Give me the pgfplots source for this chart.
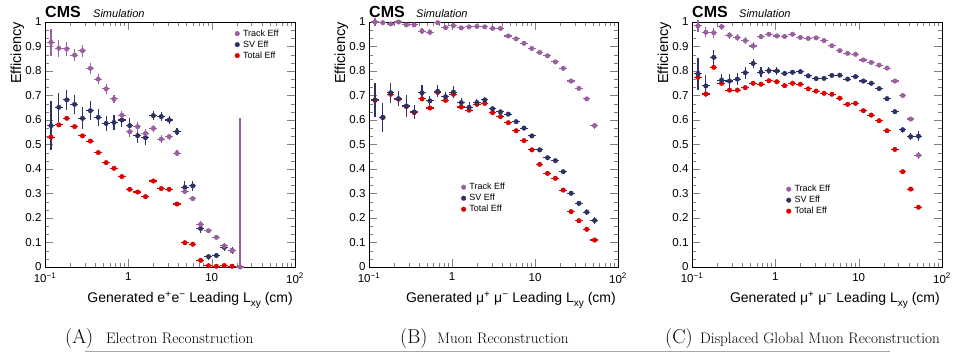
\documentclass[border=0pt]{standalone}
\usepackage{fontspec}
\usepackage{pgfplots}
\pgfplotsset{compat=1.18}
\newfontfamily\plotfont{Liberation Sans}
\definecolor{trk}{RGB}{155,95,160}
\definecolor{sv}{RGB}{45,50,100}
\definecolor{tot}{RGB}{220,0,0}
\pgfplotsset{
    scale only axis, width=250pt, height=245pt,
    xmin=0.1, xmax=100, ymin=0, ymax=1,
    xtick={0.1,1,10,100},
    xticklabels={10\textsuperscript{−1},1,10,10\textsuperscript{2}},
    ytick={0,0.1,0.2,0.3,0.4,0.5,0.6,0.7,0.8,0.9,1},
    yticklabels={0,0.1,0.2,0.3,0.4,0.5,0.6,0.7,0.8,0.9,1},
    minor y tick num=2,
    tick align=inside, tick pos=both,
    major tick length=8pt, minor tick length=4pt,
    axis line style={line width=0.8pt},
    ticklabel style={font=\plotfont\fontsize{11.5}{12}\selectfont},
    xticklabel style={yshift=-2.5pt},
    legend cell align=left,
    reverse legend,
    legend style={draw=none, fill=none, font=\plotfont\fontsize{9}{10}\selectfont,
      row sep=0pt, column sep=2pt, inner sep=0pt, nodes={inner sep=1.5pt}},
    clip=false,
}
\begin{document}
\begin{tikzpicture}
\useasboundingbox (0pt,0pt) rectangle (963pt,356pt);
% ---------------- Panel A ----------------
\begin{semilogxaxis}[at={(45pt,89pt)}, anchor=south west,
  legend style={at={(axis description cs:0.759,0.976)}, anchor=north west}]
\addplot[only marks, mark=*, mark size=2.3pt, color=tot,
  error bars/.cd, x dir=both, x fixed relative=0.108, y dir=both, y fixed=0.005,
  error mark=none, error bar style={line width=1.1pt}] table[x=x,y=y]{
x y
0.118 0.53
0.1466 0.58
0.1824 0.607
0.2267 0.573
0.2818 0.535
0.3503 0.514
0.4355 0.467
0.5414 0.426
0.673 0.403
0.8367 0.369
1.040 0.317
1.293 0.306
1.607 0.287
1.998 0.351
2.483 0.32
3.087 0.317
3.837 0.257
4.770 0.099
5.929 0.093
7.371 0.027
9.162 0.005
11.39 0.003
14.16 0.006
17.60 0.003
};
\addplot[only marks, mark=*, mark size=2.3pt, color=sv,
  error bars/.cd, x dir=both, x fixed relative=0.108, y dir=both, y explicit,
  error mark=none, error bar style={line width=1.1pt}] table[x=x,y=y,y error=e]{
x y e
0.118 0.577 0.1
0.1466 0.652 0.06
0.1824 0.682 0.04
0.2267 0.664 0.04
0.2818 0.607 0.045
0.3503 0.638 0.04
0.4355 0.611 0.035
0.5414 0.586 0.03
0.673 0.59 0.03
0.8367 0.60 0.03
1.040 0.577 0.03
1.293 0.536 0.03
1.607 0.528 0.03
1.998 0.618 0.02
2.483 0.614 0.02
3.087 0.600 0.018
3.837 0.552 0.015
4.770 0.325 0.025
5.929 0.331 0.022
7.371 0.157 0.02
9.162 0.042 0.012
11.39 0.047 0.012
14.16 0.080 0.015
17.60 0.067 0.015
};
\addplot[only marks, mark=*, mark size=2.3pt, color=trk,
  error bars/.cd, x dir=both, x fixed relative=0.108, y dir=both, y explicit,
  error mark=none, error bar style={line width=1.1pt}] table[x=x,y=y,y error plus=ep,y error minus=em]{
x y ep em
0.118 0.917 0.055 0.055
0.1466 0.893 0.035 0.035
0.1824 0.890 0.03 0.03
0.2267 0.865 0.025 0.025
0.2818 0.883 0.025 0.025
0.3503 0.811 0.022 0.022
0.4355 0.767 0.02 0.02
0.5414 0.727 0.02 0.02
0.673 0.686 0.018 0.018
0.8367 0.620 0.018 0.018
1.040 0.552 0.02 0.02
1.293 0.573 0.02 0.02
1.607 0.545 0.02 0.02
1.998 0.566 0.015 0.015
2.483 0.522 0.015 0.015
3.087 0.532 0.012 0.012
3.837 0.464 0.012 0.012
4.770 0.308 0.012 0.012
5.929 0.279 0.01 0.01
7.371 0.174 0.012 0.012
9.162 0.148 0.006 0.006
11.39 0.121 0.006 0.006
14.16 0.086 0.01 0.01
17.60 0.068 0.01 0.01
21.88 0.0 0.607 0.0
};
\legend{Total Eff, SV Eff, Track Eff}
\end{semilogxaxis}
% ---------------- Panel B ----------------
\begin{semilogxaxis}[width=249pt, at={(369pt,89pt)}, anchor=south west,
  legend style={at={(axis description cs:0.370,0.349)}, anchor=north west}]
\addplot[only marks, mark=*, mark size=2.3pt, color=tot,
  error bars/.cd, x dir=both, x fixed relative=0.108, y dir=both, y fixed=0.006,
  error mark=none, error bar style={line width=1.1pt}] table[x=x,y=y]{
x y
0.118 0.680
0.1466 0.610
0.1824 0.705
0.2267 0.685
0.2818 0.655
0.3503 0.630
0.4355 0.686
0.5414 0.649
0.673 0.713
0.8367 0.680
1.040 0.705
1.293 0.653
1.607 0.640
1.998 0.664
2.483 0.668
3.087 0.630
3.837 0.614
4.770 0.589
5.929 0.556
7.371 0.516
9.162 0.478
11.39 0.419
14.16 0.382
17.60 0.362
21.88 0.314
27.20 0.226
33.81 0.189
42.03 0.154
52.24 0.110
};
\addplot[only marks, mark=*, mark size=2.3pt, color=sv,
  error bars/.cd, x dir=both, x fixed relative=0.108, y dir=both, y explicit,
  error mark=none, error bar style={line width=1.1pt}] table[x=x,y=y,y error=e]{
x y e
0.118 0.682 0.07
0.1466 0.611 0.06
0.1824 0.711 0.04
0.2267 0.687 0.03
0.2818 0.657 0.045
0.3503 0.633 0.03
0.4355 0.711 0.03
0.5414 0.678 0.02
0.673 0.717 0.025
0.8367 0.695 0.02
1.040 0.714 0.025
1.293 0.671 0.02
1.607 0.652 0.02
1.998 0.671 0.015
2.483 0.682 0.012
3.087 0.646 0.01
3.837 0.633 0.01
4.770 0.624 0.008
5.929 0.593 0.008
7.371 0.567 0.008
9.162 0.535 0.008
11.39 0.478 0.008
14.16 0.446 0.008
17.60 0.434 0.008
21.88 0.389 0.008
27.20 0.301 0.008
33.81 0.260 0.01
42.03 0.224 0.012
52.24 0.190 0.015
};
\addplot[only marks, mark=*, mark size=2.3pt, color=trk,
  error bars/.cd, x dir=both, x fixed relative=0.108, y dir=both, y explicit,
  error mark=none, error bar style={line width=1.1pt}] table[x=x,y=y,y error=e]{
x y e
0.118 1.000 0.015
0.1466 0.997 0.01
0.1824 0.992 0.01
0.2267 1.000 0.008
0.2818 0.988 0.008
0.3503 0.988 0.008
0.4355 0.963 0.012
0.5414 0.958 0.012
0.673 0.997 0.006
0.8367 0.977 0.008
1.040 0.985 0.006
1.293 0.976 0.005
1.607 0.980 0.005
1.998 0.982 0.005
2.483 0.980 0.005
3.087 0.974 0.005
3.837 0.974 0.005
4.770 0.943 0.005
5.929 0.931 0.005
7.371 0.913 0.005
9.162 0.892 0.005
11.39 0.876 0.005
14.16 0.862 0.005
17.60 0.837 0.005
21.88 0.811 0.006
27.20 0.759 0.006
33.81 0.729 0.007
42.03 0.686 0.008
52.24 0.577 0.012
};
\legend{Total Eff, SV Eff, Track Eff}
\end{semilogxaxis}
% ---------------- Panel C ----------------
\begin{semilogxaxis}[at={(692pt,89pt)}, anchor=south west,
  legend style={at={(axis description cs:0.377,0.341)}, anchor=north west}]
\addplot[only marks, mark=*, mark size=2.3pt, color=tot,
  error bars/.cd, x dir=both, x fixed relative=0.108, y dir=both, y fixed=0.005,
  error mark=none, error bar style={line width=1.1pt}] table[x=x,y=y]{
x y
0.118 0.774
0.1466 0.706
0.1824 0.815
0.2267 0.750
0.2818 0.722
0.3503 0.722
0.4355 0.732
0.5414 0.750
0.673 0.746
0.8367 0.760
1.040 0.756
1.293 0.740
1.607 0.750
1.998 0.746
2.483 0.727
3.087 0.718
3.837 0.709
4.770 0.705
5.929 0.689
7.371 0.664
9.162 0.668
11.39 0.638
14.16 0.620
17.60 0.597
21.88 0.556
27.20 0.480
33.81 0.389
42.03 0.318
52.24 0.244
};
\addplot[only marks, mark=*, mark size=2.3pt, color=sv,
  error bars/.cd, x dir=both, x fixed relative=0.108, y dir=both, y explicit,
  error mark=none, error bar style={line width=1.1pt}] table[x=x,y=y,y error=e]{
x y e
0.118 0.788 0.065
0.1466 0.739 0.045
0.1824 0.856 0.03
0.2267 0.763 0.025
0.2818 0.759 0.03
0.3503 0.767 0.025
0.4355 0.793 0.025
0.5414 0.831 0.02
0.673 0.795 0.02
0.8367 0.801 0.015
1.040 0.800 0.015
1.293 0.790 0.012
1.607 0.795 0.01
1.998 0.797 0.01
2.483 0.780 0.008
3.087 0.769 0.008
3.837 0.770 0.007
4.770 0.782 0.007
5.929 0.783 0.007
7.371 0.767 0.007
9.162 0.777 0.007
11.39 0.759 0.007
14.16 0.750 0.007
17.60 0.728 0.008
21.88 0.687 0.008
27.20 0.634 0.01
33.81 0.560 0.012
42.03 0.532 0.015
52.24 0.534 0.02
};
\addplot[only marks, mark=*, mark size=2.3pt, color=trk,
  error bars/.cd, x dir=both, x fixed relative=0.108, y dir=both, y explicit,
  error mark=none, error bar style={line width=1.1pt}] table[x=x,y=y,y error=e]{
x y e
0.118 0.984 0.025
0.1466 0.958 0.02
0.1824 0.956 0.02
0.2267 0.981 0.012
0.2818 0.946 0.015
0.3503 0.936 0.015
0.4355 0.924 0.015
0.5414 0.902 0.015
0.673 0.940 0.01
0.8367 0.950 0.008
1.040 0.943 0.006
1.293 0.941 0.006
1.607 0.950 0.005
1.998 0.937 0.005
2.483 0.933 0.005
3.087 0.935 0.005
3.837 0.924 0.005
4.770 0.903 0.005
5.929 0.883 0.005
7.371 0.872 0.005
9.162 0.868 0.005
11.39 0.845 0.005
14.16 0.835 0.005
17.60 0.824 0.005
21.88 0.812 0.006
27.20 0.759 0.007
33.81 0.700 0.008
42.03 0.604 0.01
52.24 0.456 0.015
};
\legend{Total Eff, SV Eff, Track Eff}
\end{semilogxaxis}
% ---------------- Titles and labels ----------------
\foreach \ax/\sx in {45/93, 369/416, 692/739} {
  \node[anchor=base west, inner sep=0pt, font=\plotfont\bfseries\fontsize{16}{16}\selectfont] at (\ax pt,338pt) {CMS};
  \node[anchor=base west, inner sep=0pt, font=\plotfont\itshape\fontsize{11}{11}\selectfont] at (\sx pt,338pt) {Simulation};
}
\foreach \yl in {21, 345, 668} {
  \node[rotate=90, anchor=base east, inner sep=0pt, font=\plotfont\fontsize{14.5}{15}\selectfont] at (\yl pt,334pt) {Efficiency};
}
\node[anchor=base east, inner sep=0pt, font=\plotfont\fontsize{14}{14}\selectfont] at (293pt,53pt)
  {Generated e\textsuperscript{+}e\textsuperscript{−} Leading L\raisebox{-4pt}{\fontsize{10}{10}\selectfont xy} (cm)};
\node[anchor=base east, inner sep=0pt, font=\plotfont\fontsize{14}{14}\selectfont] at (616pt,53pt)
  {Generated μ\textsuperscript{+} μ\textsuperscript{−} Leading L\raisebox{-4pt}{\fontsize{10}{10}\selectfont xy} (cm)};
\node[anchor=base east, inner sep=0pt, font=\plotfont\fontsize{14}{14}\selectfont] at (940pt,53pt)
  {Generated μ\textsuperscript{+} μ\textsuperscript{−} Leading L\raisebox{-4pt}{\fontsize{10}{10}\selectfont xy} (cm)};
% ---------------- Captions ----------------
\node[anchor=base west, inner sep=0pt, font=\fontsize{20}{20}\selectfont] at (65pt,13pt) {(A)};
\node[anchor=base west, inner sep=0pt, font=\fontsize{15.2}{16}\selectfont] at (106pt,13pt) {Electron Reconstruction};
\node[anchor=base west, inner sep=0pt, font=\fontsize{20}{20}\selectfont] at (400pt,13pt) {(B)};
\node[anchor=base west, inner sep=0pt, font=\fontsize{15.2}{16}\selectfont] at (437pt,13pt) {Muon Reconstruction};
\node[anchor=base west, inner sep=0pt, font=\fontsize{20}{20}\selectfont] at (665pt,13pt) {(C)};
\node[anchor=base west, inner sep=0pt, font=\fontsize{15.2}{16}\selectfont] at (700pt,13pt) {Displaced Global Muon Reconstruction};
\draw[gray!70, line width=1pt] (85pt,5pt) -- (890pt,5pt);
\end{tikzpicture}
\end{document}
